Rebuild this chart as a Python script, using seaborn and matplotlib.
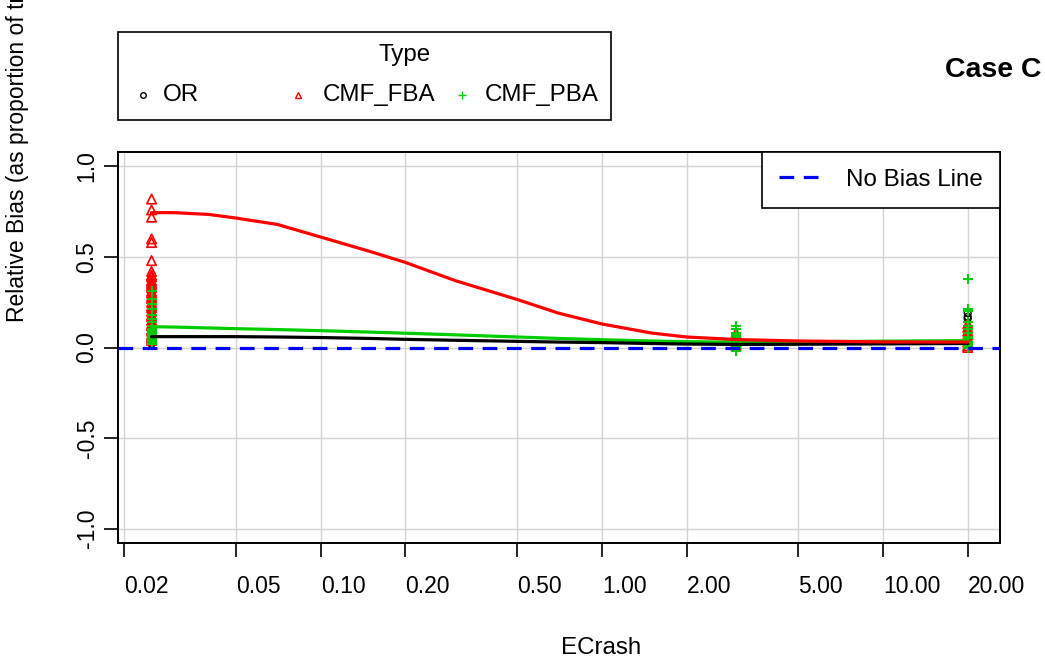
import numpy as np
import pandas as pd
import matplotlib
matplotlib.use("Agg")
import matplotlib.pyplot as plt
import matplotlib.transforms as mtransforms
from matplotlib.lines import Line2D
from matplotlib.patches import Rectangle
import seaborn as sns

# Smoothed relative-bias curves over expected crash frequency
curve_x = [0.025, 0.03, 0.04, 0.05, 0.07, 0.10, 0.15, 0.20, 0.30, 0.50,
           0.70, 1.00, 1.50, 2.00, 3.00, 5.00, 10.00, 20.00]
or_curve = [0.060, 0.060, 0.060, 0.060, 0.058, 0.055, 0.050, 0.045, 0.040, 0.034,
            0.030, 0.027, 0.022, 0.019, 0.017, 0.018, 0.020, 0.022]
fba_curve = [0.745, 0.745, 0.735, 0.715, 0.680, 0.610, 0.530, 0.470, 0.370, 0.265,
             0.190, 0.130, 0.080, 0.058, 0.044, 0.036, 0.031, 0.030]
pba_curve = [0.115, 0.113, 0.108, 0.104, 0.099, 0.093, 0.085, 0.079, 0.070, 0.058,
             0.050, 0.043, 0.036, 0.032, 0.030, 0.031, 0.035, 0.038]

# Crash levels at which the simulated estimates were computed
levels = [0.025, 3.0, 20.0]

# Individual estimates, one list per crash level
or_pts = [
    [0.02, 0.03, 0.04, 0.05, 0.06, 0.07, 0.08, 0.10, 0.12, 0.15],
    [0.01, 0.02, 0.03, 0.04, 0.06],
    [0.02, 0.05, 0.10, 0.16, 0.17, 0.19],
]
fba_pts = [
    [0.82, 0.76, 0.72, 0.60, 0.58, 0.48, 0.42, 0.40, 0.39, 0.37, 0.36, 0.35,
     0.34, 0.33, 0.31, 0.30, 0.28, 0.27, 0.25, 0.23, 0.22, 0.20, 0.18, 0.17,
     0.15, 0.13, 0.12, 0.10, 0.09, 0.07, 0.06, 0.05, 0.04],
    [0.01, 0.02, 0.03, 0.04, 0.05, 0.06, 0.08],
    [0.00, 0.01, 0.03, 0.05, 0.07, 0.09, 0.11, 0.13],
]
pba_pts = [
    [0.31, 0.27, 0.24, 0.21, 0.18, 0.16, 0.14, 0.12, 0.10, 0.09, 0.08, 0.07,
     0.06, 0.05, 0.04, 0.03, 0.02],
    [0.12, 0.10, 0.08, 0.07, 0.06, 0.05, 0.04, 0.03, 0.02, 0.01, 0.00, -0.02],
    [0.38, 0.21, 0.20, 0.14, 0.12, 0.10, 0.08, 0.06, 0.05, 0.03, 0.02, 0.01, 0.00],
]

x_ticks = [0.02, 0.05, 0.10, 0.20, 0.50, 1.00, 2.00, 5.00, 10.00, 20.00]
y_ticks = [-1.0, -0.5, 0.0, 0.5, 1.0]
type_names = ["OR", "CMF_FBA", "CMF_PBA"]

GREEN = "#00CD00"
W, H = 1045, 664
FS_TICK = 16.5
FS = 17.4


def expand(groups):
    xs, ys = [], []
    for lev, vals in zip(levels, groups):
        xs += [lev] * len(vals)
        ys += list(vals)
    return pd.DataFrame({"ECrash": xs, "Bias": ys})


sns.set_theme(style="white")
plt.rcParams["font.family"] = ["Liberation Sans", "DejaVu Sans"]
plt.rcParams["text.color"] = "black"
plt.rcParams["axes.labelcolor"] = "black"

fig = plt.figure(figsize=(W / 100, H / 100), dpi=100)
ax = fig.add_axes([118 / W, 1 - 543 / H, (1000 - 118) / W, (543 - 152) / H])
ax.set_xscale("log")

# points
sns.scatterplot(data=expand(or_pts), x="ECrash", y="Bias", ax=ax, marker="o",
                s=24, facecolor="none", edgecolor="black", linewidth=1.0,
                legend=False, zorder=3)
sns.scatterplot(data=expand(fba_pts), x="ECrash", y="Bias", ax=ax, marker="^",
                s=46, facecolor="none", edgecolor="red", linewidth=1.2,
                legend=False, zorder=3)
sns.scatterplot(data=expand(pba_pts), x="ECrash", y="Bias", ax=ax, marker="+",
                s=60, color=GREEN, linewidth=1.4, legend=False, zorder=3)

# smooth curves
curves = pd.DataFrame({
    "ECrash": curve_x * 3,
    "Bias": pba_curve + or_curve + fba_curve,
    "Type": ["CMF_PBA"] * len(curve_x) + ["OR"] * len(curve_x) + ["CMF_FBA"] * len(curve_x),
})
sns.lineplot(data=curves, x="ECrash", y="Bias", hue="Type",
             palette={"OR": "black", "CMF_FBA": "red", "CMF_PBA": GREEN},
             estimator=None, sort=False, linewidth=2.3, legend=False, ax=ax,
             zorder=4)

# reference line at zero bias
ax.axhline(0, color="#0000FF", lw=2.3, ls=(0, (4.6, 3.0)), zorder=5)

ax.set_xlim(10 ** -1.7214, 10 ** 1.416)
ax.set_ylim(-1.08, 1.08)
ax.xaxis.set_minor_locator(matplotlib.ticker.NullLocator())
ax.set_xticks(x_ticks)
ax.set_xticklabels([f"{v:.2f}" for v in x_ticks], ha="left")
shift = mtransforms.ScaledTranslation(5 / 100, 0, fig.dpi_scale_trans)
for lab in ax.get_xticklabels():
    lab.set_transform(lab.get_transform() + shift)
ax.set_yticks(y_ticks)
ax.set_yticklabels([f"{v:.1f}" for v in y_ticks], rotation=90, va="center")
ax.set_xlabel("")
ax.set_ylabel("")
ax.grid(True, color="#d3d3d3", lw=1.0)
ax.set_axisbelow(True)
for sp in ax.spines.values():
    sp.set_color("black")
    sp.set_linewidth(1.4)
ax.tick_params(axis="both", which="major", direction="out", length=10, width=1.2,
               color="black", labelsize=FS_TICK, labelcolor="black")
ax.tick_params(axis="x", pad=13)
ax.tick_params(axis="y", pad=4)
ax.tick_params(axis="both", bottom=True, left=True)

# no-bias legend
nb = ax.legend(handles=[Line2D([], [], color="#0000FF", lw=2.3, ls=(0, (4.6, 3.0)))],
               labels=["No Bias Line"], loc="upper right", borderaxespad=0,
               fontsize=FS, frameon=True, fancybox=False, handlelength=1.7,
               handletextpad=1.1, borderpad=0.7)
nb.get_frame().set_edgecolor("black")
nb.get_frame().set_linewidth(1.2)
nb.get_frame().set_alpha(1)


def fx(px):
    return px / W


def fy(py):
    return 1 - py / H


# Type legend
fig.add_artist(Rectangle((fx(118), fy(120)), fx(611) - fx(118), fy(32) - fy(120),
                         transform=fig.transFigure, fill=False, edgecolor="black",
                         lw=1.2))
fig.text(fx(405), fy(55), "Type", ha="center", va="center", fontsize=FS)
leg_marks = [("o", 143, 4, "none", "black"), ("^", 298, 4.5, "none", "red"),
             ("+", 462, 6, GREEN, GREEN)]
leg_text_x = [163, 323, 485]
for (mk, px, ms, fc, ec), tx, name in zip(leg_marks, leg_text_x, type_names):
    fig.add_artist(Line2D([fx(px)], [fy(95)], marker=mk, markersize=ms,
                          markerfacecolor=fc, markeredgecolor=ec, markeredgewidth=1.0,
                          transform=fig.transFigure, ls="none"))
    fig.text(fx(tx), fy(95), name, ha="left", va="center", fontsize=FS)

fig.text(fx(945), fy(70), "Case C", ha="left", va="center", fontsize=20.5,
         fontweight="bold")
fig.text(fx(18), fy(322), "Relative Bias (as proportion of true value)",
         rotation=90, ha="center", va="bottom", fontsize=FS_TICK)
fig.text(fx(601), fy(648), "ECrash", ha="center", va="center", fontsize=FS)

fig.savefig("out.png", dpi=100, facecolor="white")
